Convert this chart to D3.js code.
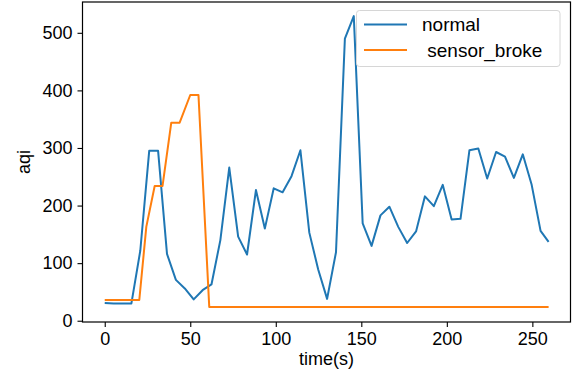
<!DOCTYPE html>
<html>
<head>
<meta charset="utf-8">
<script src="https://cdn.jsdelivr.net/npm/d3@7"></script>
<style>
  body { margin: 0; background: #fff; }
  svg text { font-family: "Liberation Sans", Arial, Helvetica, sans-serif; fill: #000; }
</style>
</head>
<body>
<svg id="chart" width="573" height="375"></svg>
<script>
// normal series, one sample about every 5.2 s
const normalTime = [0, 5.2, 10.4, 15.6, 20.8, 26, 31.2, 36.4, 41.6, 46.8,
    52, 57.2, 62.4, 67.6, 72.8, 78, 83.2, 88.4, 93.6, 98.8,
    104, 109.2, 114.4, 119.6, 124.8, 130, 135.2, 140.4, 145.6, 150.8,
    156, 161.2, 166.4, 171.6, 176.8, 182, 187.2, 192.4, 197.6, 202.8,
    208, 213.2, 218.4, 223.6, 228.8, 234, 239.2, 244.4, 249.6, 254.8, 259.5];
const normalAqi = [31, 30, 30, 30, 122, 295, 295, 116, 71, 56,
    37, 53, 63, 140, 266, 146, 115, 227, 160, 230,
    223, 251, 296, 153, 89, 38, 119, 490, 529, 169,
    130, 183, 198, 163, 135, 155, 216, 199, 236, 176,
    177, 296, 299, 247, 293, 285, 248, 289, 236, 156, 137];

// sensor_broke series
const brokeTime = [0, 20.2, 24.3, 29.2, 33.8, 38.9, 43.8, 50, 54.8, 61.1, 259.5];
const brokeAqi = [36, 36, 163, 234, 234, 344, 344, 392, 392, 24, 24];

const xTicks = [0, 50, 100, 150, 200, 250];
const yTicks = [0, 100, 200, 300, 400, 500];
const seriesNames = ['normal', ' sensor_broke'];
const seriesColors = ['#1f77b4', '#ff7f0e'];

const frame = {left: 82.5, right: 570.5, top: 2, bottom: 322};

const svg = d3.select('#chart');

const x = d3.scaleLinear()
    .domain([-13, 272.3])
    .range([frame.left, frame.right]);

const y = d3.scaleLinear()
    .domain([-2.2, 553.5])
    .range([frame.bottom, frame.top]);

const line = d3.line()
    .x(d => x(d[0]))
    .y(d => y(d[1]));

const series = [
    d3.zip(normalTime, normalAqi),
    d3.zip(brokeTime, brokeAqi)
];

svg.append('g')
    .selectAll('path')
    .data(series)
    .join('path')
    .attr('d', line)
    .attr('fill', 'none')
    .attr('stroke', (d, i) => seriesColors[i])
    .attr('stroke-width', 2)
    .attr('stroke-linejoin', 'round');

// axes
let xAxis = svg.append('g')
    .attr('transform', 'translate(0,' + frame.bottom + ')')
    .call(d3.axisBottom(x).tickValues(xTicks).tickSize(5).tickPadding(5));

let yAxis = svg.append('g')
    .attr('transform', 'translate(' + frame.left + ',0)')
    .call(d3.axisLeft(y).tickValues(yTicks).tickSize(5).tickPadding(5));

[xAxis, yAxis].forEach(a => {
    a.select('.domain').remove();
    a.selectAll('.tick line').attr('stroke', '#000').attr('stroke-width', 1.1);
    a.selectAll('.tick text').style('font-size', '18px');
});

svg.append('rect')
    .attr('x', frame.left)
    .attr('y', frame.top)
    .attr('width', frame.right - frame.left)
    .attr('height', frame.bottom - frame.top)
    .attr('fill', 'none')
    .attr('stroke', '#000')
    .attr('stroke-width', 1.2);

svg.append('text')
    .attr('x', (frame.left + frame.right) / 2)
    .attr('y', 365)
    .attr('text-anchor', 'middle')
    .style('font-size', '18px')
    .text('time(s)');

svg.append('text')
    .attr('transform', 'translate(30,' + ((frame.top + frame.bottom) / 2) + ') rotate(-90)')
    .attr('text-anchor', 'middle')
    .style('font-size', '18px')
    .text('aqi');

// legend
let legend = svg.append('g');

legend.append('rect')
    .attr('x', 356.5)
    .attr('y', 10.5)
    .attr('width', 203.5)
    .attr('height', 56)
    .attr('rx', 3)
    .attr('fill', 'rgba(255,255,255,0.8)')
    .attr('stroke', '#d6d6d6')
    .attr('stroke-width', 1);

let items = legend.selectAll('g.item')
    .data(seriesNames)
    .join('g')
    .classed('item', true)
    .attr('transform', (d, i) => 'translate(0,' + (24.5 + i * 25.5) + ')');

items.append('line')
    .attr('x1', 364)
    .attr('x2', 407)
    .attr('stroke', (d, i) => seriesColors[i])
    .attr('stroke-width', 2);

items.append('text')
    .attr('x', 422)
    .attr('y', 6.5)
    .style('font-size', '19px')
    .style('white-space', 'pre')
    .attr('xml:space', 'preserve')
    .text(d => d);
</script>
</body>
</html>
